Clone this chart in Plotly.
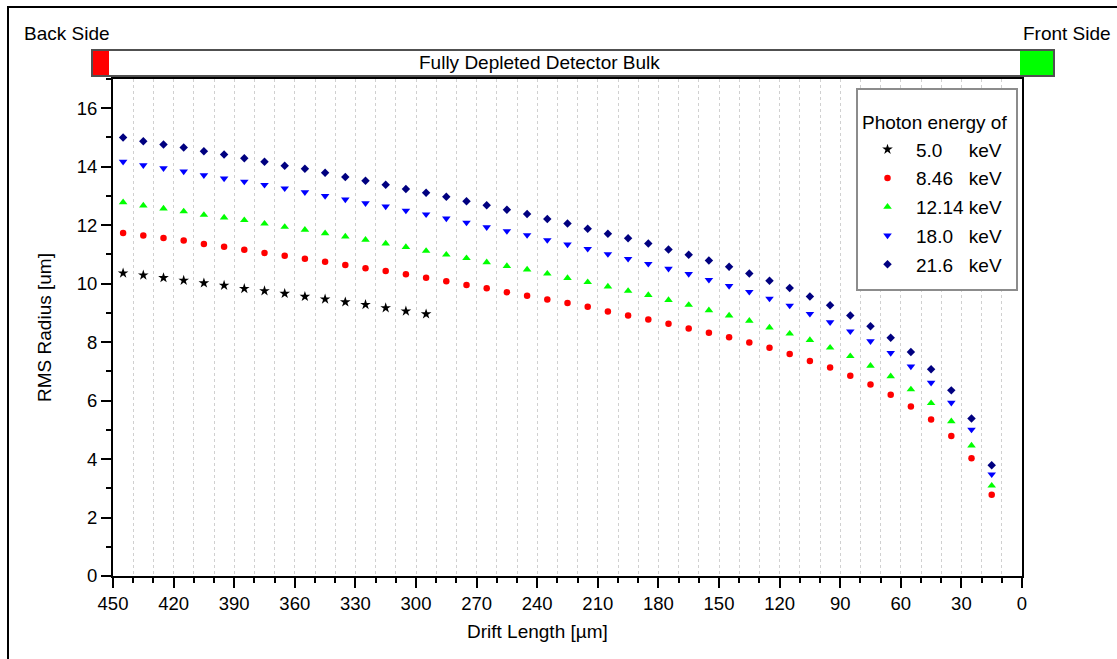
import plotly.graph_objects as go

# ---- data ----
drift_um = [445, 435, 425, 415, 405, 395, 385, 375, 365, 355, 345, 335, 325, 315, 305, 295,
            285, 275, 265, 255, 245, 235, 225, 215, 205, 195, 185, 175,
            165, 155, 145, 135, 125, 115, 105, 95, 85, 75, 65, 55, 45, 35, 25, 15]

drift_5kev = [445, 435, 425, 415, 405, 395, 385, 375, 365, 355, 345, 335, 325, 315, 305, 295]
rms_5_0 = [10.36, 10.29, 10.20, 10.11, 10.02, 9.94, 9.83, 9.75, 9.66, 9.56, 9.47, 9.37, 9.28, 9.17, 9.06, 8.96]

rms_8_46 = [11.73, 11.65, 11.56, 11.48, 11.36, 11.26, 11.16, 11.05, 10.95, 10.85, 10.75, 10.64, 10.53, 10.43, 10.32, 10.20,
            10.08, 9.95, 9.84, 9.71, 9.59, 9.46, 9.34, 9.21, 9.05, 8.91, 8.77, 8.63,
            8.47, 8.32, 8.17, 7.99, 7.81, 7.59, 7.35, 7.13, 6.85, 6.55, 6.20, 5.80, 5.35, 4.79, 4.03, 2.78]

rms_12_14 = [12.78, 12.67, 12.57, 12.47, 12.35, 12.26, 12.17, 12.05, 11.94, 11.84, 11.72, 11.61, 11.50, 11.37, 11.25, 11.12,
             10.99, 10.87, 10.73, 10.60, 10.48, 10.34, 10.19, 10.05, 9.90, 9.75, 9.61, 9.44,
             9.27, 9.09, 8.91, 8.73, 8.50, 8.29, 8.07, 7.81, 7.52, 7.19, 6.83, 6.38, 5.91, 5.29, 4.46, 3.09]

rms_18_0 = [14.17, 14.05, 13.95, 13.84, 13.71, 13.60, 13.49, 13.38, 13.26, 13.13, 13.00, 12.88, 12.75, 12.64, 12.50, 12.37,
            12.23, 12.09, 11.93, 11.80, 11.66, 11.49, 11.34, 11.19, 11.01, 10.85, 10.68, 10.51,
            10.33, 10.13, 9.92, 9.72, 9.49, 9.25, 8.97, 8.68, 8.37, 8.03, 7.63, 7.17, 6.61, 5.93, 5.01, 3.48]

rms_21_6 = [15.00, 14.87, 14.76, 14.66, 14.53, 14.42, 14.29, 14.17, 14.03, 13.93, 13.79, 13.65, 13.52, 13.38, 13.24, 13.11,
            12.97, 12.82, 12.68, 12.53, 12.38, 12.21, 12.06, 11.88, 11.71, 11.55, 11.37, 11.17,
            10.99, 10.79, 10.58, 10.35, 10.10, 9.85, 9.56, 9.26, 8.91, 8.54, 8.15, 7.66, 7.07, 6.35, 5.39, 3.79]

legend_names = ["5.0\u00a0\u00a0\u00a0\u00a0\u00a0keV", "8.46\u00a0\u00a0\u00a0keV", "12.14 keV",
                "18.0\u00a0\u00a0\u00a0keV", "21.6\u00a0\u00a0\u00a0keV"]

x_ticks = [450, 420, 390, 360, 330, 300, 270, 240, 210, 180, 150, 120, 90, 60, 30, 0]
y_ticks = [0, 2, 4, 6, 8, 10, 12, 14, 16]

FONT = "Liberation Sans, Arial, sans-serif"

fig = go.Figure()
series = [
    (drift_5kev, rms_5_0, "star", "black", 8),
    (drift_um, rms_8_46, "circle", "#ff0000", 6.5),
    (drift_um, rms_12_14, "triangle-up", "#00ff00", 7.5),
    (drift_um, rms_18_0, "triangle-down", "#0000ff", 7.5),
    (drift_um, rms_21_6, "diamond", "#000080", 6.5),
]
for i, (xs, ys, sym, col, sz) in enumerate(series):
    fig.add_trace(go.Scatter(
        x=xs, y=ys, mode="markers", name=legend_names[i], legendgroup=str(i),
        marker=dict(symbol=sym, color=col, size=sz, line=dict(width=0)),
    ))

# paper-coordinate helpers (plot area: 113..1022 px horizontally, 79..576 px vertically)
L, R, T, B = 113, 1022, 79, 576
def px(x):
    return (x - L) / (R - L)
def py(y):
    return (B - y) / (B - T)

shapes = [
    # outer frame
    dict(type="rect", xref="paper", yref="paper", x0=px(8), x1=px(1130), y0=py(670), y1=py(7),
         line=dict(color="black", width=2), fillcolor="rgba(0,0,0,0)", layer="below"),
    # detector bar
    dict(type="rect", xref="paper", yref="paper", x0=px(92), x1=px(1054), y0=py(76), y1=py(50),
         line=dict(color="#505050", width=2), fillcolor="white"),
    dict(type="rect", xref="paper", yref="paper", x0=px(93), x1=px(109), y0=py(75), y1=py(51),
         line=dict(width=0), fillcolor="#ff0000"),
    dict(type="rect", xref="paper", yref="paper", x0=px(1020), x1=px(1053), y0=py(75), y1=py(51),
         line=dict(width=0), fillcolor="#00ff00"),
    # legend frame
    dict(type="rect", xref="paper", yref="paper", x0=px(857), x1=px(1017), y0=py(290), y1=py(89),
         line=dict(color="#8c8c8c", width=2), fillcolor="white", layer="above"),
]

annotations = [
    dict(text="Back Side", xref="paper", yref="paper", x=px(67), y=py(34), showarrow=False,
         xanchor="center", yanchor="middle", font=dict(size=19)),
    dict(text="Front Side", xref="paper", yref="paper", x=px(1067), y=py(34), showarrow=False,
         xanchor="center", yanchor="middle", font=dict(size=19)),
    dict(text="Fully Depleted Detector Bulk", xref="paper", yref="paper", x=px(539), y=py(62),
         showarrow=False, xanchor="center", yanchor="middle", font=dict(size=19)),
    dict(text="Photon energy of", xref="paper", yref="paper", x=px(860), y=py(122),
         showarrow=False, xanchor="left", yanchor="middle", font=dict(size=19)),
    dict(text="Drift Length [µm]", xref="paper", yref="paper", x=px(537), y=py(631),
         showarrow=False, xanchor="center", yanchor="middle", font=dict(size=19)),
]

fig.update_layout(
    width=1117, height=659,
    margin=dict(l=L, r=1117 - R, t=T, b=659 - B),
    paper_bgcolor="white", plot_bgcolor="white",
    font=dict(family=FONT, size=18.5, color="black"),
    shapes=shapes, annotations=annotations,
    legend=dict(
        x=px(859), y=py(130.5), xanchor="left", yanchor="top",
        bgcolor="rgba(0,0,0,0)", borderwidth=0,
        font=dict(size=19), itemwidth=47, tracegroupgap=1,
    ),
    xaxis=dict(
        range=[450, 0], tickmode="array", tickvals=x_ticks, ticktext=[str(v) for v in x_ticks],
        ticks="outside", ticklen=10, tickwidth=2, tickcolor="black",
        showline=True, linewidth=2, linecolor="black", mirror=True,
        showgrid=True, gridcolor="#d0d0d0", griddash="dot", gridwidth=1, zeroline=False,
        minor=dict(dtick=10, tick0=0, ticks="outside", ticklen=5, tickwidth=2, tickcolor="black",
                   showgrid=True, gridcolor="#d0d0d0", griddash="dot", gridwidth=1),
    ),
    yaxis=dict(
        range=[0, 17], tickmode="array", tickvals=y_ticks, ticktext=[str(v) for v in y_ticks],
        ticks="outside", ticklen=10, tickwidth=2, tickcolor="black",
        showline=True, linewidth=2, linecolor="black", mirror=True,
        showgrid=False, zeroline=False,
        minor=dict(dtick=1, tick0=0, ticks="outside", ticklen=5, tickwidth=2, tickcolor="black",
                   showgrid=False),
        title=dict(text="RMS Radius [um]", standoff=20, font=dict(size=19)),
    ),
)

fig.write_html("out.html")
